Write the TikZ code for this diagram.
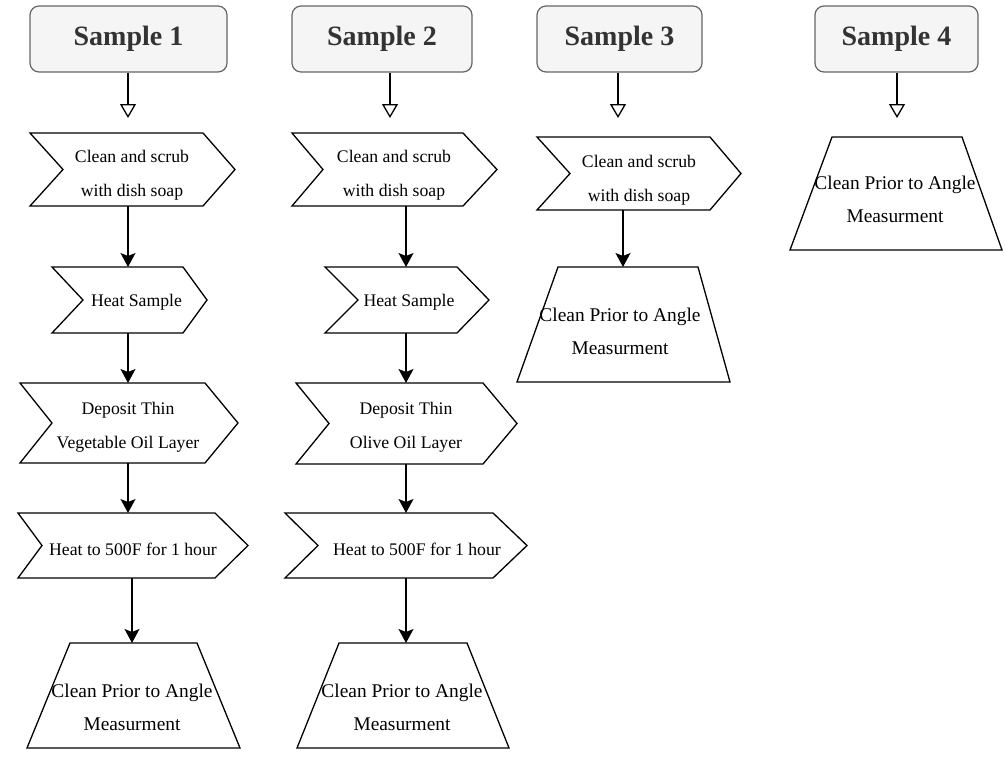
\documentclass[tikz,border=0pt]{standalone}
\usepackage{fontspec}
\setmainfont{Liberation Serif}
\usetikzlibrary{arrows.meta,calc}
\definecolor{boxfill}{HTML}{F5F5F5}
\definecolor{boxline}{HTML}{666666}
\definecolor{boxtext}{HTML}{333333}
\tikzset{
  samplebox/.style={draw=boxline, fill=boxfill, line width=1.2pt, rounded corners=9pt,
    font=\fontsize{28}{30}\selectfont\bfseries, text=boxtext, inner sep=0, minimum height=66pt},
  shapeline/.style={draw=black, line width=1.3pt, line join=miter},
  frame/.style={inner sep=0, outer sep=0},
  ctext/.style={align=center, font=\fontsize{17.7}{34}\selectfont, inner sep=0},
  ttext/.style={align=center, font=\fontsize{19.4}{33}\selectfont, inner sep=0},
  openarr/.style={line width=1.3pt, -{Triangle[open, length=14pt, width=16pt]}},
  solidarr/.style={line width=1.3pt, -{Stealth[length=14pt, width=15pt, inset=3pt]}},
}
% chevron: name, x left, x notch, x right top, x tip, y top, y bottom
\newcommand{\chevshape}[7]{%
  \path[shapeline] (#2,#6) -- (#4,#6) -- (#5,{(#6+#7)/2}) -- (#4,#7) -- (#2,#7) -- (#3,{(#6+#7)/2}) -- cycle;
  \node[frame, minimum width={(#5-#2)*1pt}, minimum height={(#7-#6)*1pt}] (#1) at ({(#2+#5)/2},{(#6+#7)/2}) {};
}
% trapezoid: name, top-left, top-right, bottom-left, bottom-right, y top, y bottom
\newcommand{\trapshape}[7]{%
  \path[shapeline] (#2,#6) -- (#3,#6) -- (#5,#7) -- (#4,#7) -- cycle;
  \node[frame, minimum width={(#5-#4)*1pt}, minimum height={(#7-#6)*1pt}] (#1) at ({(#4+#5)/2},{(#6+#7)/2}) {};
}
\begin{document}
\begin{tikzpicture}[x=1pt,y=-1pt]
\useasboundingbox (0,0) rectangle (1005,761);

% Sample boxes
\node[samplebox, minimum width=197pt] (s1) at (128.5,39) {Sample 1};
\node[samplebox, minimum width=180pt] (s2) at (382,39) {Sample 2};
\node[samplebox, minimum width=165pt] (s3) at (619.5,39) {Sample 3};
\node[samplebox, minimum width=163pt] (s4) at (896.5,39) {Sample 4};

% arrow columns
\coordinate (ax1) at (128,0);
\coordinate (ax1b) at (132,0);
\coordinate (ax2s) at (390,0);
\coordinate (ax2) at (406,0);
\coordinate (ax3s) at (618,0);
\coordinate (ax3) at (623,0);
\coordinate (ax4) at (897,0);

% Column 1
\chevshape{c1}{30}{63}{203}{235}{133}{206}
\node[ctext] (c1t) at (132,175) {Clean and scrub\\with dish soap};
\chevshape{h1}{52}{83}{183}{207}{267}{333}
\node[ctext] (h1t) at (136.5,302) {Heat Sample};
\chevshape{d1}{20}{52}{205}{238}{383}{463}
\node[ctext] (d1t) at (128,427) {Deposit Thin\\Vegetable Oil Layer};
\chevshape{f1}{18}{42}{215}{248}{513}{578}
\node[ctext] (f1t) at (133,549) {Heat to 500F for 1 hour};
\trapshape{t1}{70}{197}{27}{240}{643}{748}
\node[ttext] (t1t) at (132,707) {Clean Prior to Angle\\Measurment};

% Column 2
\chevshape{c2}{292}{323}{463}{497}{133}{206}
\node[ctext] (c2t) at (394,175) {Clean and scrub\\with dish soap};
\chevshape{h2}{325}{358}{457}{489}{267}{333}
\node[ctext] (h2t) at (409,302) {Heat Sample};
\chevshape{d2}{296}{329}{483}{517}{383}{464}
\node[ctext] (d2t) at (406,427) {Deposit Thin\\Olive Oil Layer};
\chevshape{f2}{285}{318}{493}{527}{513}{578}
\node[ctext] (f2t) at (417,549) {Heat to 500F for 1 hour};
\trapshape{t2}{339}{467}{297}{509}{643}{748}
\node[ttext] (t2t) at (402,707) {Clean Prior to Angle\\Measurment};

% Column 3
\chevshape{c3}{537}{570}{710}{741}{137}{210}
\node[ctext] (c3t) at (639,180) {Clean and scrub\\with dish soap};
\trapshape{t3}{558}{698}{517}{730}{267}{382}
\node[ttext] (t3t) at (620,331) {Clean Prior to Angle\\Measurment};

% Column 4
\trapshape{t4}{832}{962}{790}{1002}{137}{250}
\node[ttext] (t4t) at (895,199) {Clean Prior to Angle\\Measurment};

% open arrows from sample boxes
\draw[openarr] (s1.south -| ax1) -- ($(c1.north -| ax1)+(0,-15)$);
\draw[openarr] (s2.south -| ax2s) -- ($(c2.north -| ax2s)+(0,-15)$);
\draw[openarr] (s3.south -| ax3s) -- ($(c3.north -| ax3s)+(0,-19)$);
\draw[openarr] (s4.south -| ax4) -- ($(t4.north -| ax4)+(0,-19)$);

% solid arrows column 1
\draw[solidarr] (c1.south -| ax1) -- (h1.north -| ax1);
\draw[solidarr] (h1.south -| ax1) -- (d1.north -| ax1);
\draw[solidarr] (d1.south -| ax1) -- (f1.north -| ax1);
\draw[solidarr] (f1.south -| ax1b) -- (t1.north -| ax1b);

% solid arrows column 2
\draw[solidarr] (c2.south -| ax2) -- (h2.north -| ax2);
\draw[solidarr] (h2.south -| ax2) -- (d2.north -| ax2);
\draw[solidarr] (d2.south -| ax2) -- (f2.north -| ax2);
\draw[solidarr] (f2.south -| ax2) -- (t2.north -| ax2);

% solid arrow column 3
\draw[solidarr] (c3.south -| ax3) -- (t3.north -| ax3);
\end{tikzpicture}
\end{document}
